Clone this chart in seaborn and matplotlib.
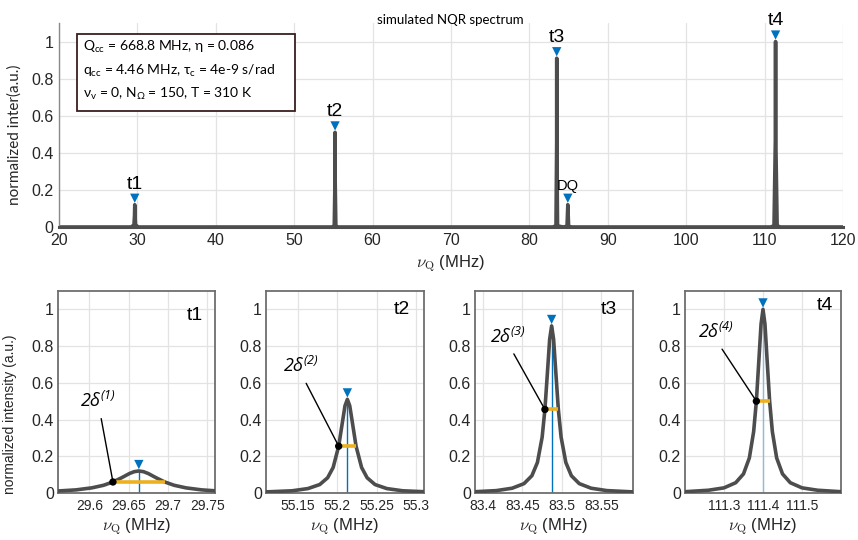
import numpy as np
import pandas as pd
import matplotlib
matplotlib.use("Agg")
import matplotlib.pyplot as plt
from matplotlib.patches import Rectangle
import seaborn as sns

# ---------------- data ----------------
peak_names = ["t1", "t2", "t3", "t4"]
peak_centers = [29.663, 55.213, 83.487, 111.40]
peak_heights = [0.12, 0.51, 0.91, 1.00]
half_widths = [0.033, 0.011, 0.0085, 0.017]   # delta (HWHM)
dq_center = 84.9
dq_height = 0.12

overview_x = [20.0, 29.2, 29.56, 29.63, 29.663, 29.70, 29.76, 30.1,
              54.8, 55.11, 55.20, 55.213, 55.225, 55.31, 55.6,
              83.0, 83.39, 83.478, 83.487, 83.496, 83.59, 84.3, 84.8, 84.9, 85.0, 85.4,
              110.8, 111.2, 111.383, 111.40, 111.417, 111.6, 112.0, 120.0]
overview_y = [0.0, 0.0, 0.011, 0.06, 0.12, 0.06, 0.012, 0.0,
              0.0, 0.006, 0.255, 0.51, 0.255, 0.006, 0.0,
              0.0, 0.007, 0.455, 0.91, 0.455, 0.006, 0.0, 0.004, 0.12, 0.004, 0.0,
              0.0, 0.007, 0.5, 1.0, 0.5, 0.007, 0.0, 0.0]

# zoomed line shapes
t1_x = [29.560, 29.583, 29.603, 29.618, 29.630, 29.641, 29.651, 29.657, 29.663,
        29.669, 29.675, 29.685, 29.696, 29.708, 29.723, 29.743, 29.760]
t1_y = [0.011, 0.017, 0.028, 0.042, 0.060, 0.083, 0.106, 0.116, 0.120,
        0.116, 0.106, 0.083, 0.060, 0.042, 0.028, 0.017, 0.012]

t2_x = [55.110, 55.143, 55.163, 55.178, 55.188, 55.195, 55.202, 55.207, 55.210, 55.213,
        55.216, 55.219, 55.224, 55.231, 55.238, 55.248, 55.263, 55.283, 55.310]
t2_y = [0.006, 0.012, 0.024, 0.046, 0.083, 0.139, 0.255, 0.393, 0.475, 0.510,
        0.475, 0.393, 0.255, 0.139, 0.083, 0.046, 0.024, 0.012, 0.007]

t3_x = [83.390, 83.417, 83.437, 83.452, 83.462, 83.469, 83.475, 83.4785, 83.482, 83.4845, 83.487,
        83.4895, 83.492, 83.4955, 83.499, 83.505, 83.512, 83.522, 83.537, 83.557, 83.590]
t3_y = [0.007, 0.013, 0.026, 0.051, 0.094, 0.166, 0.304, 0.455, 0.676, 0.837, 0.910,
        0.837, 0.676, 0.455, 0.304, 0.166, 0.094, 0.051, 0.026, 0.013, 0.006]

t4_x = [111.20, 111.26, 111.30, 111.33, 111.35, 111.365, 111.376, 111.383, 111.39, 111.395, 111.40,
        111.405, 111.41, 111.417, 111.424, 111.435, 111.45, 111.47, 111.50, 111.54, 111.60]
t4_y = [0.007, 0.015, 0.028, 0.056, 0.104, 0.191, 0.334, 0.500, 0.743, 0.920, 1.000,
        0.920, 0.743, 0.500, 0.334, 0.191, 0.104, 0.056, 0.028, 0.015, 0.007]

zoom_x = [t1_x, t2_x, t3_x, t4_x]
zoom_y = [t1_y, t2_y, t3_y, t4_y]
zoom_xlims = [(29.56, 29.76), (55.11, 55.31), (83.39, 83.59), (111.2, 111.6)]
zoom_ticks = [[29.6, 29.65, 29.7, 29.75], [55.15, 55.2, 55.25, 55.3],
              [83.4, 83.45, 83.5, 83.55], [111.3, 111.4, 111.5]]
zoom_ticklabels = [["29.6", "29.65", "29.7", "29.75"], ["55.15", "55.2", "55.25", "55.3"],
                   ["83.4", "83.45", "83.5", "83.55"], ["111.3", "111.4", "111.5"]]
delta_text_pos = [(29.611, 0.50), (55.154, 0.69), (83.432, 0.85), (111.279, 0.875)]
panel_label_pos = [(0.87, 0.88), (0.86, 0.91), (0.85, 0.91), (0.90, 0.93)]

overview_ticks = [20, 30, 40, 50, 60, 70, 80, 90, 100, 110, 120]
y_ticks = [0, 0.2, 0.4, 0.6, 0.8, 1.0]
y_ticklabels = ["0", "0.2", "0.4", "0.6", "0.8", "1"]

info_lines = [r"Q$\mathregular{_{cc}}$ = 668.8 MHz, η = 0.086",
              r"q$\mathregular{_{cc}}$ = 4.46 MHz, τ$\mathregular{_{c}}$ = 4e-9 s/rad",
              r"ν$\mathregular{_{v}}$ = 0, N$\mathregular{_{Ω}}$ = 150, T = 310 K"]

# ---------------- style ----------------
sns.set_theme(style="whitegrid")
plt.rcParams["font.family"] = ["Liberation Sans", "DejaVu Sans"]
plt.rcParams["mathtext.fontset"] = "cm"
plt.rcParams["axes.grid"] = True
plt.rcParams["grid.color"] = "#e3e3e3"
plt.rcParams["grid.linewidth"] = 0.9

LINE = "#4d4d4d"
BLUE = "#0072BD"
ORANGE = "#EDB120"
TXT = "#262626"
UI_FONT = ["Lato", "Open Sans", "DejaVu Sans"]

fig = plt.figure(figsize=(8.58, 5.40), dpi=100)

# ---------------- top panel ----------------
ax0 = fig.add_axes([59/858, 1-227/540, 784/858, 204/540])
sns.lineplot(x=overview_x, y=overview_y, ax=ax0, color=LINE, lw=2.6, sort=False)
ax0.set_xlim(20, 120)
ax0.set_ylim(0, 1.1)
ax0.set_xticks(overview_ticks)
ax0.set_xticklabels([str(t) for t in overview_ticks])
ax0.set_yticks(y_ticks)
ax0.set_yticklabels(y_ticklabels)
ax0.tick_params(axis="both", labelsize=11.5, colors=TXT, direction="in", length=4,
                width=1, pad=4)
for s in ["top", "right"]:
    ax0.spines[s].set_visible(False)
ax0.spines["left"].set_color("#8a8a8a")
ax0.spines["left"].set_linewidth(1.0)
ax0.spines["bottom"].set_color(LINE)
ax0.spines["bottom"].set_linewidth(2.2)
ax0.set_xlabel(r"$\nu_{\rm Q}$ (MHz)", fontsize=12, color=TXT, labelpad=4)
ax0.set_ylabel("normalized inter(a.u.)", fontsize=11, color=TXT, family=UI_FONT)
ax0.yaxis.set_label_coords(-0.047, 0.45)

mk_x = peak_centers + [dq_center]
mk_y = [h + 0.035 for h in peak_heights] + [dq_height + 0.035]
sns.scatterplot(x=mk_x, y=mk_y, ax=ax0, marker="v", color=BLUE, s=45, edgecolor="none",
                zorder=5, clip_on=False)
for name, cx, h in zip(peak_names, peak_centers, peak_heights):
    ax0.text(cx, h + 0.065, name, ha="center", va="bottom", fontsize=14, color="black")
ax0.text(dq_center, dq_height + 0.065, "DQ", ha="center", va="bottom", fontsize=10.5,
         color="black")

fig.text(450/858, 1-20/540, "simulated NQR spectrum", ha="center", va="center",
         fontsize=9.5, color="black", family=UI_FONT)

# info box
fig.patches.append(Rectangle((77/858, 1-111/540), 218/858, 77/540, transform=fig.transFigure,
                             facecolor="white", edgecolor="#3a1f1f", lw=1.3, zorder=10))
for i, line in enumerate(info_lines):
    fig.text(83/858, 1-(47 + 23.5*i)/540, line, ha="left", va="center", fontsize=10,
             family=UI_FONT, color="black", zorder=11)

# ---------------- bottom panels ----------------
lefts = [58, 266, 475, 685]
widths = [157, 158, 158, 156]
for i in range(4):
    ax = fig.add_axes([lefts[i]/858, 47/540, widths[i]/858, 202/540])
    c, h, d = peak_centers[i], peak_heights[i], half_widths[i]
    sns.lineplot(x=zoom_x[i], y=zoom_y[i], ax=ax, color=LINE, lw=2.6, sort=False, zorder=3)
    ax.plot([c, c], [0, h], color=BLUE if i < 3 else "#8fbbe0", lw=1.0, zorder=2)
    ax.plot([c - d, c + d], [h/2, h/2], color=ORANGE, lw=2.6, zorder=4,
            solid_capstyle="butt")
    sns.scatterplot(x=[c - d], y=[h/2], ax=ax, color="black", s=28, edgecolor="none",
                    zorder=6)
    sns.scatterplot(x=[c], y=[h + 0.035], ax=ax, marker="v", color=BLUE, s=45,
                    edgecolor="none", zorder=6, clip_on=False)
    tx, ty = delta_text_pos[i]
    ax.annotate(r"2δ$\mathregular{^{(%d)}}$" % (i + 1), xy=(c - d, h/2), xytext=(tx, ty),
                ha="center", va="center", fontsize=13, fontstyle="italic",
                family=["Open Sans", "DejaVu Sans"], color="black", zorder=7,
                arrowprops=dict(arrowstyle="-", color="black", lw=1.0,
                                shrinkA=3, shrinkB=2, relpos=(0.55, 0.0)))
    px, py = panel_label_pos[i]
    ax.text(px, py, peak_names[i], transform=ax.transAxes, ha="center", va="center",
            fontsize=14, color="black")
    ax.set_xlim(*zoom_xlims[i])
    ax.set_ylim(0, 1.1)
    ax.set_xticks(zoom_ticks[i])
    ax.set_xticklabels(zoom_ticklabels[i])
    ax.set_yticks(y_ticks)
    ax.set_yticklabels(y_ticklabels)
    ax.tick_params(axis="x", labelsize=10, colors=TXT, direction="in", length=3, pad=4)
    ax.tick_params(axis="y", labelsize=11.5, colors=TXT, direction="in", length=3, pad=3)
    for s in ax.spines.values():
        s.set_visible(True)
        s.set_color("#6e6e6e")
        s.set_linewidth(1.3)
    ax.set_xlabel(r"$\nu_{\rm Q}$ (MHz)", fontsize=12, color=TXT, labelpad=3)
    if i == 0:
        ax.set_ylabel("normalized intensity (a.u.)", fontsize=10, color=TXT)
        ax.yaxis.set_label_coords(-0.26, 0.39)
    else:
        ax.set_ylabel("")

fig.savefig("out.png", dpi=100)
